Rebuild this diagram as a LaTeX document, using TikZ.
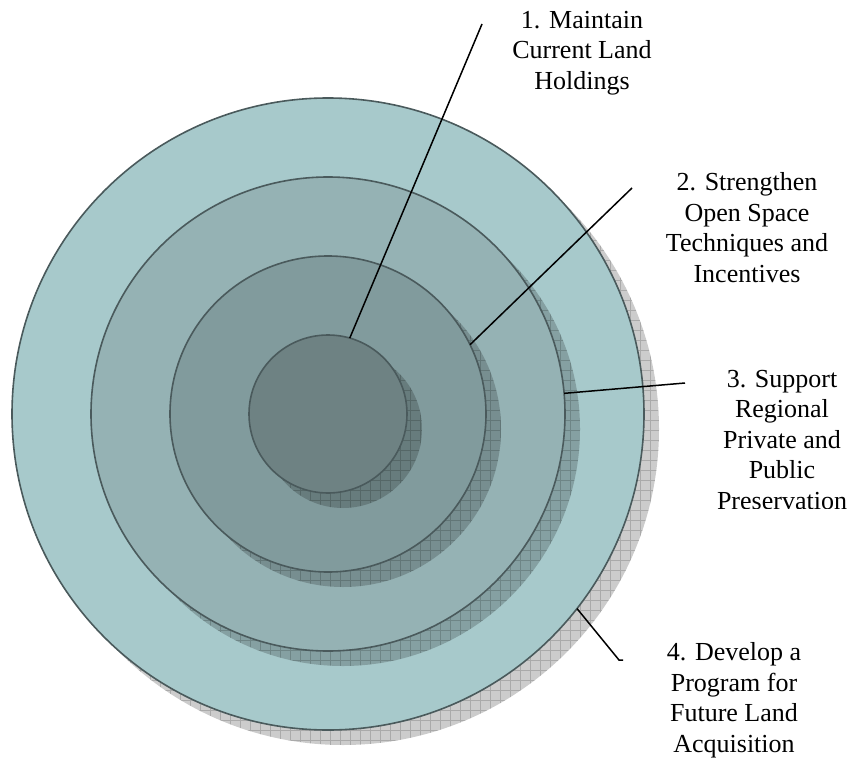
\documentclass[tikz,border=0pt]{standalone}
\usepackage{fontspec}
\setmainfont{Liberation Serif}
\definecolor{ringA}{HTML}{A7C9CB}
\definecolor{ringB}{HTML}{95B2B4}
\definecolor{ringC}{HTML}{819B9D}
\definecolor{ringD}{HTML}{6E8283}
\definecolor{ringline}{HTML}{4A5A5C}
\tikzset{
  ring/.style={circle,draw=ringline,line width=1.6pt,inner sep=0pt,outer sep=0pt},
  castshadow/.style={fill=black,fill opacity=0.2},
  castgrid/.style={draw=black,opacity=0.17,line width=0.5pt,step=10pt},
  lead/.style={draw=black,line width=1.5pt},
  goal/.style={align=center,font=\fontsize{26}{30.5}\selectfont,inner sep=0pt,anchor=base}
}
\begin{document}
\begin{tikzpicture}[x=1pt,y=-1pt]
    \useasboundingbox (0,0) rectangle (851,760);
    % rings from the outside in, each with its hatched shadow
    \foreach \r/\c/\n in {316/ringA/c1,237/ringB/c2,158/ringC/c3,79/ringD/c4}{
      \fill[castshadow] (343,429) circle (\r);
      \begin{scope}
        \clip (343,429) circle (\r);
        \draw[castgrid] (0,0) grid (851,760);
      \end{scope}
      \node[ring,fill=\c,minimum size=2*\r] (\n) at (328,414) {};
    }
    \coordinate (t1) at (482,24);
    \coordinate (t2) at (632,188);
    \coordinate (t3) at (685,383);
    \coordinate (t4) at (619,660);
    \draw[lead] (c4.74) -- (t1);
    \draw[lead] (c3.26.7) -- (t2);
    \draw[lead] (c2.5.3) -- (t3);
    \draw[lead] (c1.-38.7) -- (t4) -- ++(4,0);
    % labels sit on the baseline of their last line
    \node[goal] (g1) at (582,89) {1. Maintain\\ Current Land\\ Holdings};
    \node[goal] (g2) at (747,282) {2. Strengthen\\ Open Space\\ Techniques and\\ Incentives};
    \begin{scope}
      \clip (690,340) rectangle (851,508);
      \node[goal] (g3) at (782,509) {3. Support\\ Regional\\ Private and\\ Public\\ Preservation};
    \end{scope}
    \node[goal] (g4) at (734,752) {4. Develop a\\ Program for\\ Future Land\\ Acquisition};
  \end{tikzpicture}
\end{document}
